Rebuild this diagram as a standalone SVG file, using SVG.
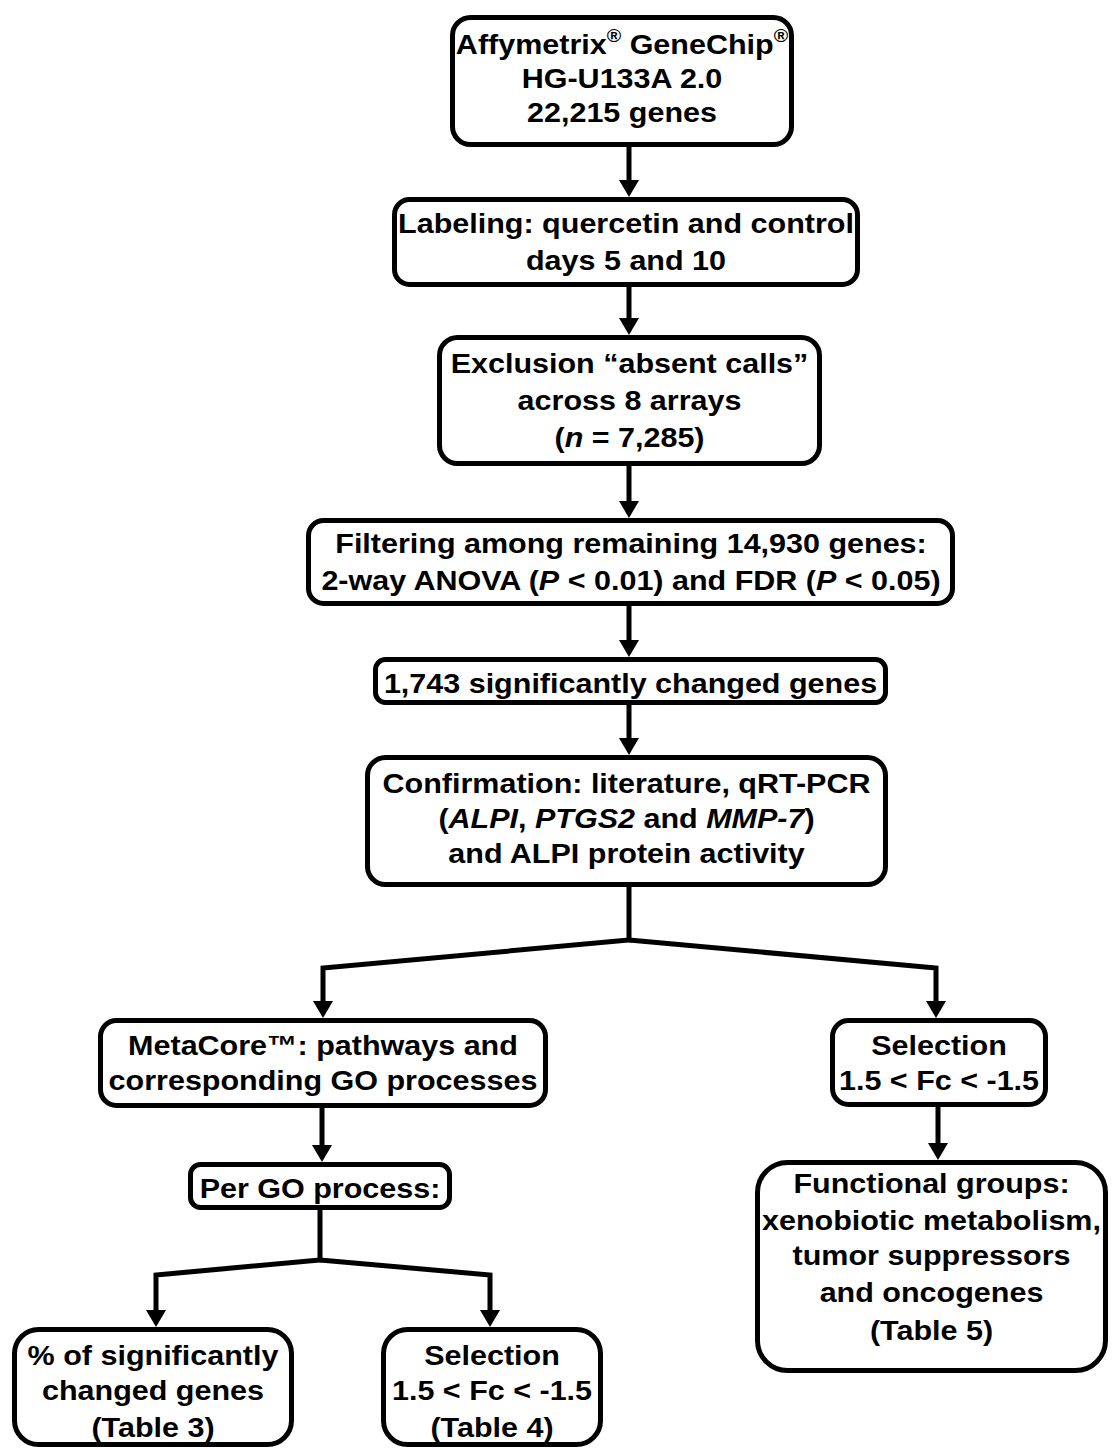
<svg xmlns="http://www.w3.org/2000/svg" width="1113" height="1450" viewBox="0 0 1113 1450">
<defs>
<style>
.box{fill:#fff;stroke:#000;stroke-width:5}
.t{font-family:"Liberation Sans",Arial,Helvetica,sans-serif;font-weight:bold;font-size:28px;text-anchor:middle;fill:#000}
.i{font-style:italic}
.sup{font-size:18px}
.c{fill:none;stroke:#000;stroke-width:5;stroke-linejoin:miter;marker-end:url(#ah)}
</style>
<marker id="ah" viewBox="0 -10 17 20" markerWidth="17" markerHeight="20" refX="5" refY="0" orient="auto" markerUnits="userSpaceOnUse">
<path d="M0,-10 L17,0 L0,10 z" fill="#000"/>
</marker>
</defs>
<rect width="1113" height="1450" fill="#fff"/>
<g id="connectors">
<path class="c" d="M629,147 V185"/>
<path class="c" d="M629,287 V323"/>
<path class="c" d="M629,466 V506"/>
<path class="c" d="M629,606 V645"/>
<path class="c" d="M629,705 V743"/>
<path class="c" d="M629,887 V940 L323,968 V1006"/>
<path class="c" d="M629,940 L936,968 V1006"/>
<path class="c" d="M322,1108 V1150"/>
<path class="c" d="M320,1210 V1260 L156,1275 V1315"/>
<path class="c" d="M320,1260 L490,1275 V1315"/>
<path class="c" d="M938,1107 V1148"/>
</g>
<g id="n1">
<rect class="box" x="452.5" y="17.5" width="339" height="127" rx="18"/>
<text class="t" transform="translate(622,0) scale(1.09,1)"><tspan x="0" y="54">Affymetrix<tspan class="sup" dy="-12">®</tspan><tspan dy="12"> GeneChip</tspan><tspan class="sup" dy="-12">®</tspan></tspan><tspan x="0" y="88">HG-U133A 2.0</tspan><tspan x="0" y="122">22,215 genes</tspan></text>
</g>
<g id="n2">
<rect class="box" x="394.5" y="199.5" width="463" height="85" rx="15"/>
<text class="t" transform="translate(626,0) scale(1.09,1)"><tspan x="0" y="233">Labeling: quercetin and control</tspan><tspan x="0" y="270">days 5 and 10</tspan></text>
</g>
<g id="n3">
<rect class="box" x="439.5" y="337.5" width="380" height="126" rx="18"/>
<text class="t" transform="translate(629.5,0) scale(1.09,1)"><tspan x="0" y="373">Exclusion “absent calls”</tspan><tspan x="0" y="410">across 8 arrays</tspan><tspan x="0" y="447">(<tspan class="i">n</tspan> = 7,285)</tspan></text>
</g>
<g id="n4">
<rect class="box" x="308.5" y="520.5" width="644" height="83" rx="15"/>
<text class="t" transform="translate(631,0) scale(1.09,1)"><tspan x="0" y="553">Filtering among remaining 14,930 genes:</tspan><tspan x="0" y="590">2-way ANOVA (<tspan class="i">P</tspan> &lt; 0.01) and FDR (<tspan class="i">P</tspan> &lt; 0.05)</tspan></text>
</g>
<g id="n5">
<rect class="box" x="375.5" y="659.5" width="510" height="43" rx="10"/>
<text class="t" transform="translate(630.5,0) scale(1.09,1)"><tspan x="0" y="693">1,743 significantly changed genes</tspan></text>
</g>
<g id="n6">
<rect class="box" x="367.5" y="757.5" width="518" height="127" rx="18"/>
<text class="t" transform="translate(626.5,0) scale(1.09,1)"><tspan x="0" y="793">Confirmation: literature, qRT-PCR</tspan><tspan x="0" y="828">(<tspan class="i">ALPI</tspan>, <tspan class="i">PTGS2</tspan> and <tspan class="i">MMP-7</tspan>)</tspan><tspan x="0" y="863">and ALPI protein activity</tspan></text>
</g>
<g id="n7">
<rect class="box" x="100.5" y="1020.5" width="445" height="85" rx="16"/>
<text class="t" transform="translate(323,0) scale(1.09,1)"><tspan x="0" y="1055">MetaCore™: pathways and</tspan><tspan x="0" y="1090">corresponding GO processes</tspan></text>
</g>
<g id="n8">
<rect class="box" x="190.5" y="1164.5" width="259" height="43" rx="10"/>
<text class="t" transform="translate(320,0) scale(1.09,1)"><tspan x="0" y="1198">Per GO process:</tspan></text>
</g>
<g id="n9">
<rect class="box" x="832.5" y="1020.5" width="213" height="84" rx="16"/>
<text class="t" transform="translate(939,0) scale(1.09,1)"><tspan x="0" y="1055">Selection</tspan><tspan x="0" y="1090">1.5 &lt; Fc &lt; -1.5</tspan></text>
</g>
<g id="n10">
<rect class="box" x="757.5" y="1162.5" width="348" height="208" rx="30"/>
<text class="t" transform="translate(931.5,0) scale(1.09,1)"><tspan x="0" y="1193">Functional groups:</tspan><tspan x="0" y="1230">xenobiotic metabolism,</tspan><tspan x="0" y="1265">tumor suppressors</tspan><tspan x="0" y="1302">and oncogenes</tspan><tspan x="0" y="1340">(Table 5)</tspan></text>
</g>
<g id="n11">
<rect class="box" x="14.5" y="1329.5" width="277" height="115" rx="24"/>
<text class="t" transform="translate(153,0) scale(1.09,1)"><tspan x="0" y="1365">% of significantly</tspan><tspan x="0" y="1400">changed genes</tspan><tspan x="0" y="1437">(Table 3)</tspan></text>
</g>
<g id="n12">
<rect class="box" x="383.5" y="1329.5" width="217" height="115" rx="24"/>
<text class="t" transform="translate(492,0) scale(1.09,1)"><tspan x="0" y="1365">Selection</tspan><tspan x="0" y="1400">1.5 &lt; Fc &lt; -1.5</tspan><tspan x="0" y="1437">(Table 4)</tspan></text>
</g>
</svg>
